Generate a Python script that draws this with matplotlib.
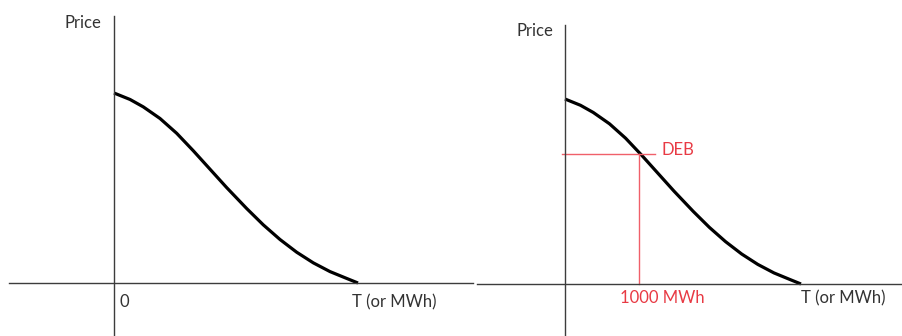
import numpy as np
import matplotlib.pyplot as plt

# demand curve (arbitrary price units, MWh)
quantity = [0, 210, 384, 603, 822, 1040, 1259, 1478, 1740, 1958, 2177, 2396, 2614, 2833, 3052, 3200]
price = [100, 96.6, 92.7, 86.6, 78.8, 69.6, 59.9, 50.2, 39.2, 30.6, 22.9, 16.2, 10.6, 6.0, 2.4, 0]

deb_q = 1000
deb_p = 70

W, H = 902, 336
fig = plt.figure(figsize=(W / 100, H / 100), dpi=100)
plt.rcParams['font.family'] = ['Lato', 'DejaVu Sans']

axis_col = '#3c3c3c'
text_col = '#333333'
red_line = '#f0606a'
red_text = '#e83a44'
fs = 12


def make_ax(x0, x1, y0, y1, ox, oy, qpx, ppx):
    # rect in pixels -> figure fraction; origin at (ox, oy) pixels
    ax = fig.add_axes([x0 / W, 1 - y1 / H, (x1 - x0) / W, (y1 - y0) / H])
    ax.set_xlim(-(ox - x0) * qpx, (x1 - ox) * qpx)
    ax.set_ylim(-(y1 - oy) * ppx, (oy - y0) * ppx)
    for s in ['top', 'right']:
        ax.spines[s].set_visible(False)
    ax.spines['left'].set_position(('data', 0))
    ax.spines['bottom'].set_position(('data', 0))
    for s in ['left', 'bottom']:
        ax.spines[s].set_color(axis_col)
        ax.spines[s].set_linewidth(1.0)
    ax.set_xticks([])
    ax.set_yticks([])
    ax.patch.set_alpha(0)
    return ax


# left panel
ax1 = make_ax(9, 473, 16, 336, 114, 283, 13.115, 1 / 1.9)
ax1.plot(quantity, price, color='black', lw=2.3, solid_capstyle='butt', solid_joinstyle='round')
ax1.text(-170, 137, 'Price', ha='right', va='center', fontsize=fs, color=text_col)
ax1.text(66, -10, '0', ha='left', va='center', fontsize=fs, color=text_col)
ax1.text(3121, -10, 'T (or MWh)', ha='left', va='center', fontsize=fs, color=text_col)

# right panel
ax2 = make_ax(477, 902, 25, 336, 565, 284, 13.56, 1 / 1.85)
ax2.plot(quantity, price, color='black', lw=2.3, solid_capstyle='butt', solid_joinstyle='round')
ax2.plot([-41, 1220], [deb_p, deb_p], color=red_line, lw=1.0)
ax2.plot([deb_q, deb_q], [0, deb_p], color=red_line, lw=1.0)
ax2.text(1302, 72.4, 'DEB', ha='left', va='center', fontsize=fs, color=red_text)
ax2.text(1315, -7.6, '1000 MWh', ha='center', va='center', fontsize=fs, color=red_text)
ax2.text(3200, -7.6, 'T (or MWh)', ha='left', va='center', fontsize=fs, color=text_col)
ax2.text(-163, 137, 'Price', ha='right', va='center', fontsize=fs, color=text_col)

fig.savefig('out.png', dpi=100)
